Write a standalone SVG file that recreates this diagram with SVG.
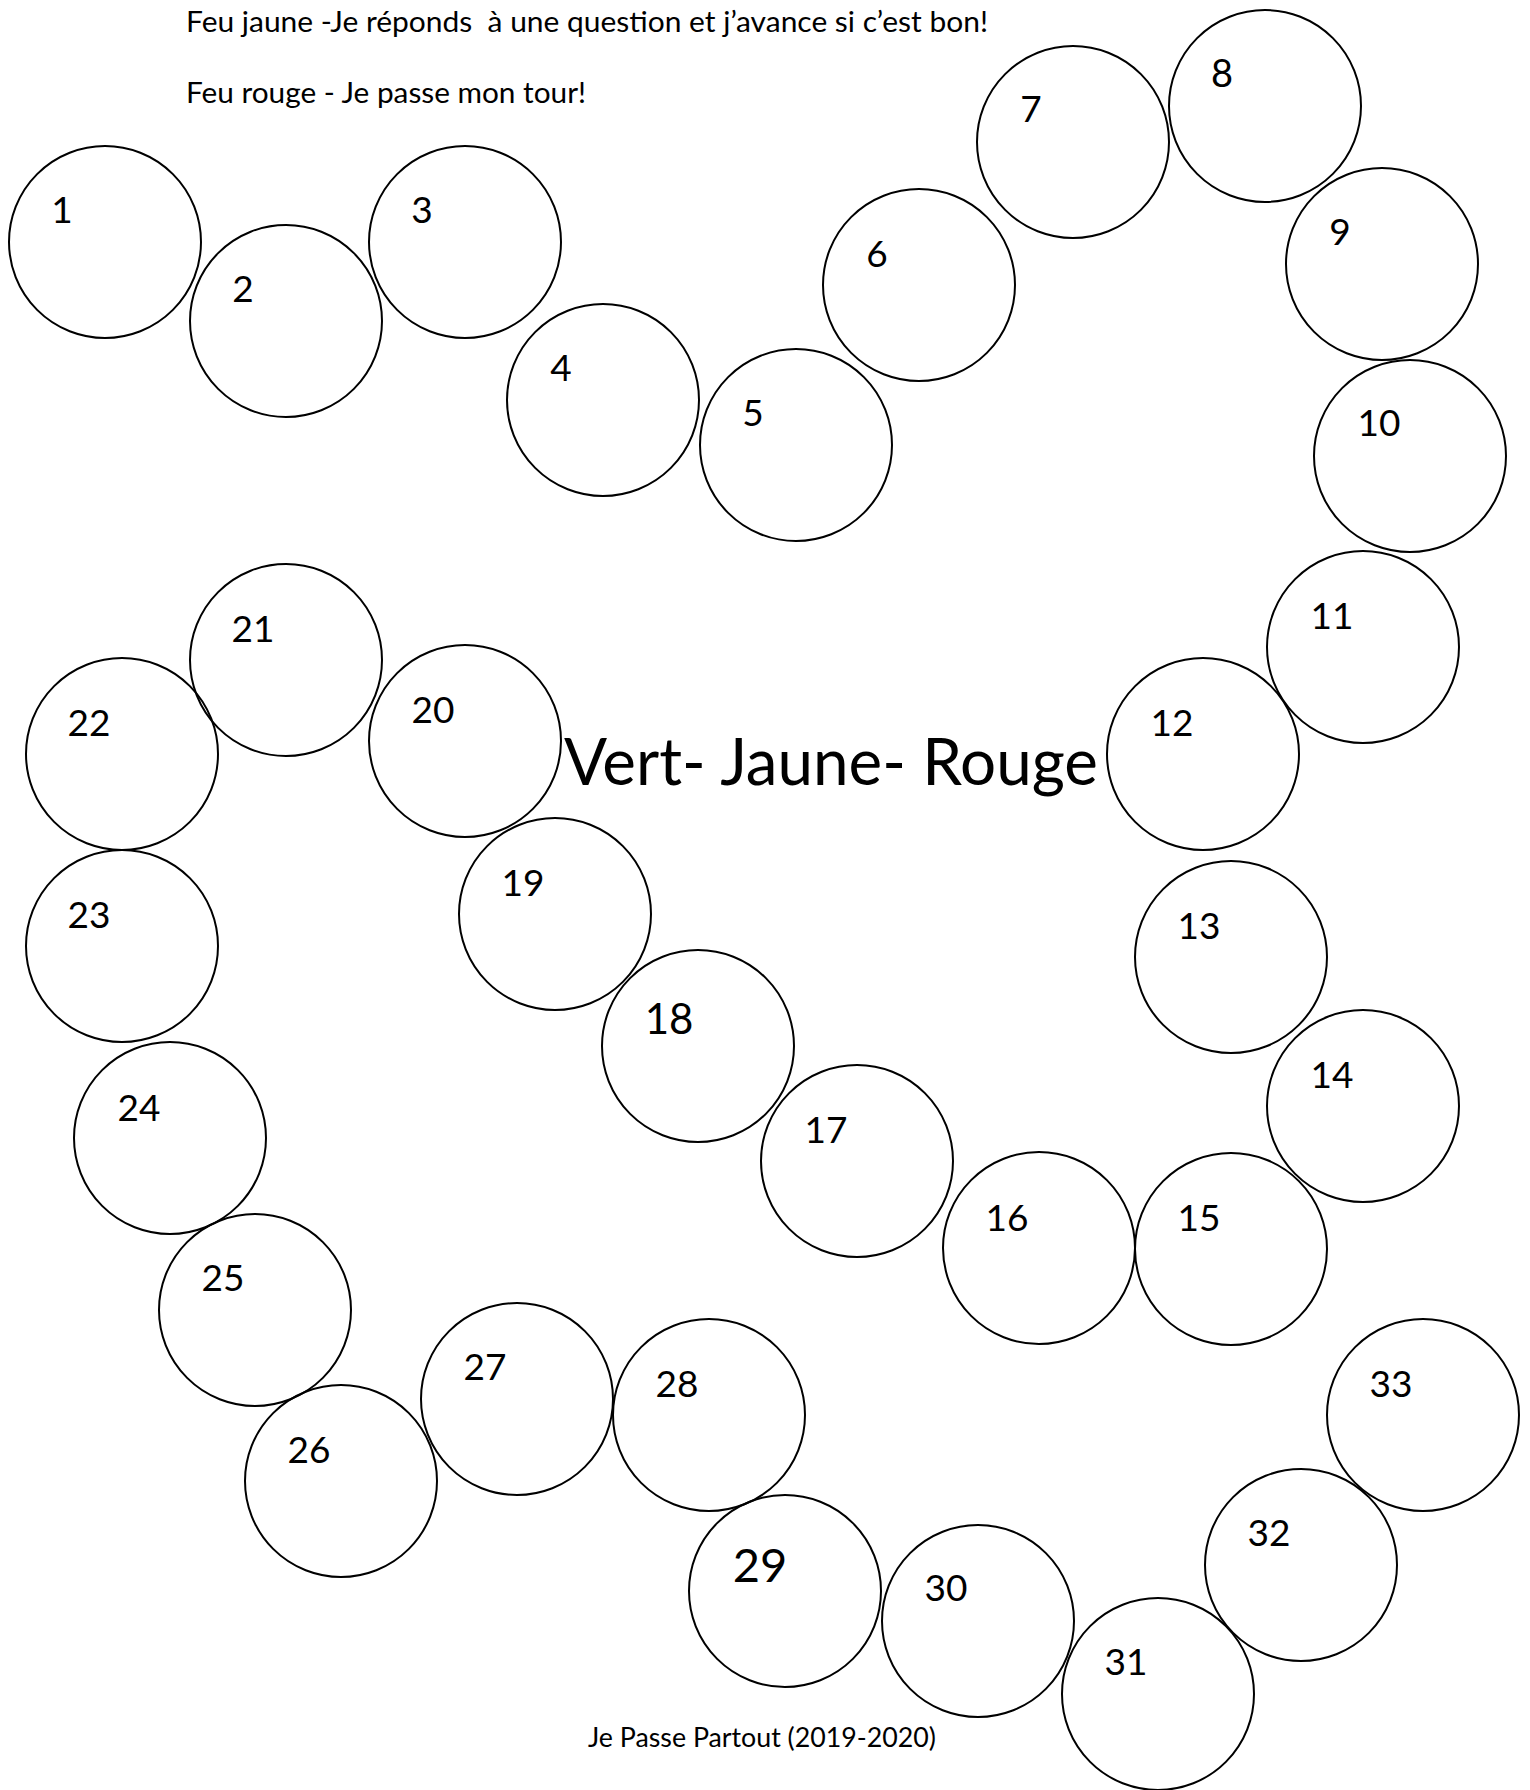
<svg xmlns="http://www.w3.org/2000/svg" width="1530" height="1790" viewBox="0 0 1530 1790">
<style>
.c{fill:none;stroke:#000;stroke-width:2}
.n{font-family:Lato,"Open Sans","DejaVu Sans",sans-serif;font-size:37px;fill:#000;text-anchor:middle}
.n.m{font-size:38px}
.n.l{font-size:42px}
.n.xl{font-size:47px}
.t{font-family:Lato,"Open Sans","DejaVu Sans",sans-serif;fill:#000}
</style>
<rect width="1530" height="1790" fill="#fff"/>
<g id="texts">
<text class="t" x="186" y="32" font-size="28" textLength="802" lengthAdjust="spacingAndGlyphs" xml:space="preserve">Feu jaune -Je réponds  à une question et j’avance si c’est bon!</text>
<text class="t" x="186" y="103" font-size="28" textLength="400" lengthAdjust="spacingAndGlyphs">Feu rouge - Je passe mon tour!</text>
<text class="t" x="564" y="785" font-size="65" textLength="534" lengthAdjust="spacingAndGlyphs">Vert- Jaune- Rouge</text>
<text class="t" x="588" y="1747" font-size="27" textLength="348" lengthAdjust="spacingAndGlyphs">Je Passe Partout (2019-2020)</text>
</g>
<g id="connectors"></g>
<g id="n1"><circle class="c" cx="105" cy="242" r="96"/><text class="n" x="62" y="223">1</text></g>
<g id="n2"><circle class="c" cx="286" cy="321" r="96"/><text class="n" x="243" y="302">2</text></g>
<g id="n3"><circle class="c" cx="465" cy="242" r="96"/><text class="n" x="422" y="223">3</text></g>
<g id="n4"><circle class="c" cx="603" cy="400" r="96"/><text class="n" x="561" y="381">4</text></g>
<g id="n5"><circle class="c" cx="796" cy="445" r="96"/><text class="n" x="753" y="426">5</text></g>
<g id="n6"><circle class="c" cx="919" cy="285" r="96"/><text class="n" x="877" y="267">6</text></g>
<g id="n7"><circle class="c" cx="1073" cy="142" r="96"/><text class="n" x="1031" y="122">7</text></g>
<g id="n8"><circle class="c" cx="1265" cy="106" r="96"/><text class="n m" x="1222" y="87">8</text></g>
<g id="n9"><circle class="c" cx="1382" cy="264" r="96"/><text class="n" x="1340" y="245">9</text></g>
<g id="n10"><circle class="c" cx="1410" cy="456" r="96"/><text class="n" x="1379" y="436">10</text></g>
<g id="n11"><circle class="c" cx="1363" cy="647" r="96"/><text class="n" x="1332" y="629">11</text></g>
<g id="n12"><circle class="c" cx="1203" cy="754" r="96"/><text class="n" x="1172" y="736">12</text></g>
<g id="n13"><circle class="c" cx="1231" cy="957" r="96"/><text class="n" x="1199" y="939">13</text></g>
<g id="n14"><circle class="c" cx="1363" cy="1106" r="96"/><text class="n" x="1332" y="1088">14</text></g>
<g id="n15"><circle class="c" cx="1231" cy="1249" r="96"/><text class="n" x="1199" y="1231">15</text></g>
<g id="n16"><circle class="c" cx="1039" cy="1248" r="96"/><text class="n" x="1007" y="1231">16</text></g>
<g id="n17"><circle class="c" cx="857" cy="1161" r="96"/><text class="n" x="826" y="1143">17</text></g>
<g id="n18"><circle class="c" cx="698" cy="1046" r="96"/><text class="n l" x="669" y="1034">18</text></g>
<g id="n19"><circle class="c" cx="555" cy="914" r="96"/><text class="n" x="523" y="896">19</text></g>
<g id="n20"><circle class="c" cx="465" cy="741" r="96"/><text class="n" x="433" y="723">20</text></g>
<g id="n21"><circle class="c" cx="286" cy="660" r="96"/><text class="n" x="253" y="642">21</text></g>
<g id="n22"><circle class="c" cx="122" cy="754" r="96"/><text class="n" x="89" y="736">22</text></g>
<g id="n23"><circle class="c" cx="122" cy="946" r="96"/><text class="n" x="89" y="928">23</text></g>
<g id="n24"><circle class="c" cx="170" cy="1138" r="96"/><text class="n" x="139" y="1121">24</text></g>
<g id="n25"><circle class="c" cx="255" cy="1310" r="96"/><text class="n" x="223" y="1291">25</text></g>
<g id="n26"><circle class="c" cx="341" cy="1481" r="96"/><text class="n" x="309" y="1463">26</text></g>
<g id="n27"><circle class="c" cx="517" cy="1399" r="96"/><text class="n" x="485" y="1380">27</text></g>
<g id="n28"><circle class="c" cx="709" cy="1415" r="96"/><text class="n" x="677" y="1397">28</text></g>
<g id="n29"><circle class="c" cx="785" cy="1591" r="96"/><text class="n xl" x="760" y="1582">29</text></g>
<g id="n30"><circle class="c" cx="978" cy="1621" r="96"/><text class="n" x="946" y="1601">30</text></g>
<g id="n31"><circle class="c" cx="1158" cy="1694" r="96"/><text class="n" x="1126" y="1675">31</text></g>
<g id="n32"><circle class="c" cx="1301" cy="1565" r="96"/><text class="n" x="1269" y="1546">32</text></g>
<g id="n33"><circle class="c" cx="1423" cy="1415" r="96"/><text class="n" x="1391" y="1397">33</text></g>
</svg>
